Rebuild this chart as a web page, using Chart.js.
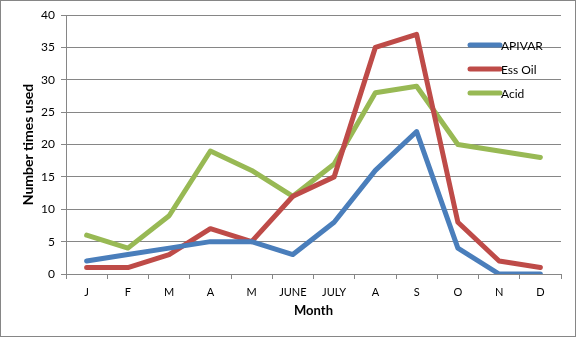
<!DOCTYPE html>
<html><head><meta charset="utf-8">
<script src="https://cdn.jsdelivr.net/npm/chart.js@4"></script>
<style>html,body{margin:0;padding:0;background:#fff}#w{width:576px;height:337px}</style>
</head><body><div id="w"><canvas id="c"></canvas></div>
<script>
const months = ["J","F","M","A","M","JUNE","JULY","A","S","O","N","D"];
const apivar = [2,3,4,5,5,3,8,16,22,4,0,0];
const essOil = [1,1,3,7,5,12,15,35,37,8,2,1];
const acid   = [6,4,9,19,16,12,17,28,29,20,19,18];
const yTicks = [0,5,10,15,20,25,30,35,40];

const FONT = "Lato, 'Open Sans', sans-serif";
const legendPlugin = {
  id:'customLegend',
  afterDraw(chart){
    const ctx = chart.ctx;
    const x0 = 470, x1 = 500, ys = [45,69,93];
    ctx.save();
    chart.data.datasets.forEach((ds,i)=>{
      ctx.strokeStyle = ds.borderColor; ctx.lineWidth = 5; ctx.lineCap='round';
      ctx.beginPath(); ctx.moveTo(x0,ys[i]); ctx.lineTo(x1,ys[i]); ctx.stroke();
      ctx.fillStyle = '#000'; ctx.font = "12px " + FONT; ctx.textBaseline='middle'; ctx.textAlign='left';
      ctx.fillText(ds.label, x1+1, ys[i]+1);
    });
    ctx.strokeStyle = '#868686'; ctx.lineWidth = 1;
    ctx.strokeRect(0.5,0.5,chart.width-1,chart.height-1);
    ctx.restore();
  }
};
const bg = {id:'bg', beforeDraw(c){c.ctx.save();c.ctx.fillStyle='#fff';c.ctx.fillRect(0,0,c.width,c.height);c.ctx.restore();}};

new Chart(document.getElementById('c'), {
  type:'line',
  data:{labels:months, datasets:[
    {label:'APIVAR', data:apivar, borderColor:'#4A7EBB'},
    {label:'Ess Oil', data:essOil, borderColor:'#BE4B48'},
    {label:'Acid', data:acid, borderColor:'#98B954'}
  ]},
  options:{
    responsive:true, maintainAspectRatio:false, animation:false,
    elements:{line:{borderWidth:5, tension:0, borderJoinStyle:'round', borderCapStyle:'round'}, point:{radius:0, hoverRadius:0}},
    layout:{padding:{left:0, top:15, right:15, bottom:0}},
    plugins:{legend:{display:false}, tooltip:{enabled:false}},
    scales:{
      x:{offset:true,
        grid:{offset:true, drawOnChartArea:false, color:'#868686', tickLength:5, tickColor:'#868686'},
        border:{color:'#868686'},
        ticks:{color:'#000', font:{family:FONT,size:11}, padding:7, maxRotation:0, autoSkip:false},
        title:{display:true, text:'Month', color:'#000', font:{family:FONT,size:13,weight:'bold'}, padding:{top:3,bottom:18}},
        afterFit(s){ s.height = 63; }
      },
      y:{min:0, max:40,
        afterBuildTicks(s){ s.ticks = yTicks.map(v=>({value:v})); },
        grid:{color:'#868686', tickLength:5, tickColor:'#868686'},
        border:{color:'#868686'},
        ticks:{color:'#000', font:{family:FONT,size:12}, padding:6},
        title:{display:true, text:'Number times used', color:'#000', font:{family:FONT,size:14,weight:'bold'}, padding:{top:20,bottom:0}},
        afterFit(s){ s.width = 66; }
      }
    }
  },
  plugins:[bg, legendPlugin]
});
</script></body></html>
